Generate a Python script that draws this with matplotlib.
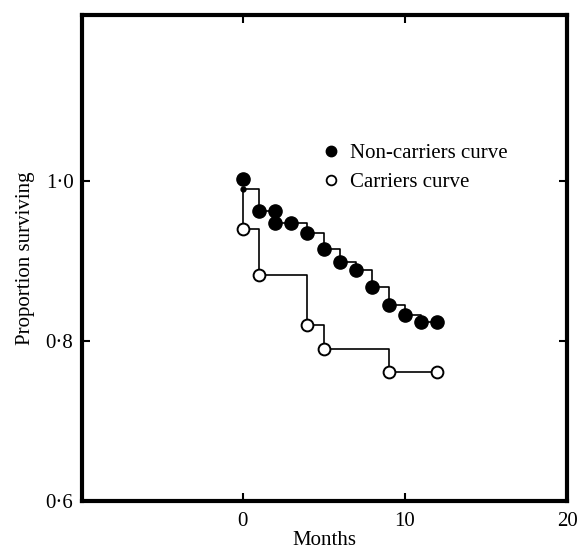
import matplotlib.pyplot as plt
from matplotlib.lines import Line2D

plt.rcParams['font.family'] = ['Liberation Serif', 'DejaVu Serif']

# non-carriers: step line and the circles on it
nc_months = [0, 1, 2, 3, 4, 5, 6, 7, 8, 9, 10, 11, 12]
nc_step = [0.990, 0.963, 0.948, 0.948, 0.935, 0.915, 0.899, 0.889, 0.867, 0.845, 0.832, 0.824, 0.824]
nc_pts_x = [0, 1, 2, 2, 3, 4, 5, 6, 7, 8, 9, 10, 11, 12]
nc_pts_y = [1.003, 0.963, 0.963, 0.948, 0.948, 0.935, 0.915, 0.899, 0.889, 0.867, 0.845, 0.832, 0.824, 0.824]

# carriers
c_months = [0, 0, 1, 4, 5, 9, 12]
c_step = [0.990, 0.940, 0.882, 0.820, 0.790, 0.761, 0.761]
c_pts_x = [0, 1, 4, 5, 9, 12]
c_pts_y = [0.940, 0.882, 0.820, 0.790, 0.761, 0.761]

start_x = [0]
start_y = [0.990]

xticks = [0, 10, 20]
yticks = [0.6, 0.8, 1.0]
ylabels = ['0\u00b76', '0\u00b78', '1\u00b70']

fig = plt.figure(figsize=(5.8, 5.5), dpi=100)
ax = fig.add_axes([0.141, 0.089, 0.837, 0.884])

ax.plot(nc_months, nc_step, color='black', lw=1.2, drawstyle='steps-post')
ax.plot(c_months, c_step, color='black', lw=1.2, drawstyle='steps-post')
ax.plot(start_x, start_y, 'o', color='black', ms=3.5)
ax.plot(nc_pts_x, nc_pts_y, 'o', color='black', ms=9.5, zorder=3)
ax.plot(c_pts_x, c_pts_y, 'o', mfc='white', mec='black', mew=1.4, ms=8.5, zorder=3)

ax.set_xlim(-9.9, 20)
ax.set_ylim(0.6, 1.2075)
ax.set_xticks(xticks)
ax.set_yticks(yticks)
ax.set_yticklabels(ylabels)
ax.tick_params(direction='in', length=6, width=1.5, labelsize=15,
               top=True, right=True, pad=6, colors='black')
ax.tick_params(axis='x', pad=8)
for s in ax.spines.values():
    s.set_linewidth(3)

ax.set_xlabel('Months', fontsize=15, labelpad=0)
ax.set_ylabel('Proportion surviving', fontsize=15, labelpad=8)

handles = [Line2D([], [], ls='none', marker='o', color='black', ms=7.5),
           Line2D([], [], ls='none', marker='o', mfc='white', mec='black', mew=1.3, ms=7)]
ax.legend(handles, ['Non-carriers curve', 'Carriers curve'], frameon=False,
          fontsize=15, loc='upper left', bbox_to_anchor=(0.47, 0.752),
          handletextpad=0.3, labelspacing=0.43, handlelength=1.2, borderaxespad=0)

fig.savefig('out.png', dpi=100)
